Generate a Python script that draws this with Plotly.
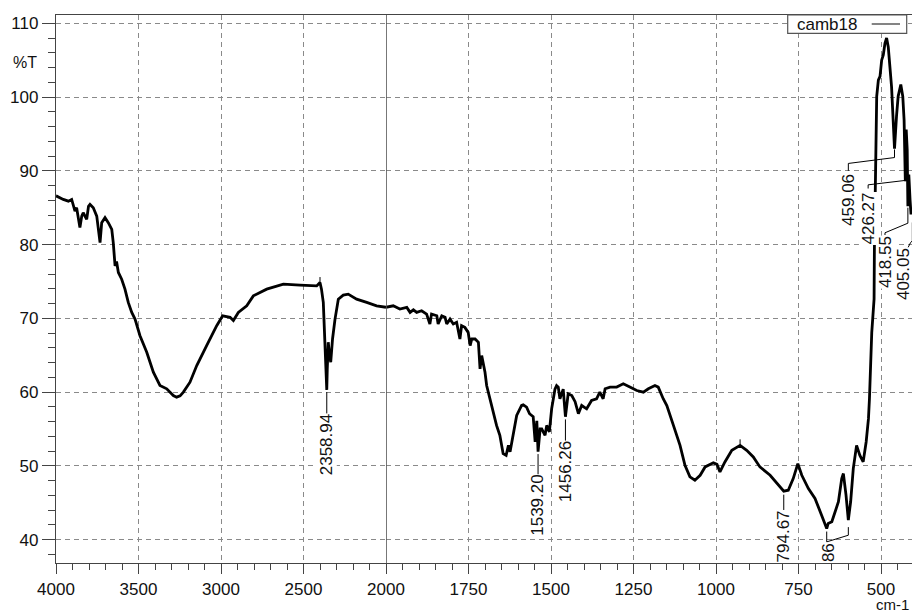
import plotly.graph_objects as go

# ---- spectrum: wavenumber (cm-1) and transmittance (%T) ----
wavenumber = [
    4000, 3996, 3956, 3925, 3905, 3895, 3885, 3875, 3867, 3855, 3844, 3835, 3814,
    3803, 3794, 3774, 3753, 3744, 3733, 3723, 3703, 3683, 3662, 3653, 3642, 3633,
    3622, 3602, 3582, 3562, 3541, 3521, 3491, 3450, 3410, 3370, 3329, 3289, 3269,
    3248, 3228, 3188, 3147, 3087, 3026, 2990, 2970, 2945, 2925, 2895, 2844, 2804,
    2723, 2622, 2521, 2420, 2400, 2391, 2380, 2370, 2361, 2358.94, 2356, 2350,
    2344, 2335, 2324, 2309, 2289, 2259, 2229, 2178, 2117, 2057, 2000,
    1978, 1958, 1937, 1927, 1917, 1907, 1892, 1877, 1867, 1862, 1846, 1842, 1831,
    1821, 1816, 1806, 1796, 1786, 1776, 1771, 1761, 1751, 1745, 1740, 1730, 1720,
    1715, 1710, 1700, 1695, 1685, 1675, 1665, 1655, 1649, 1645, 1636, 1629, 1624,
    1614, 1604, 1589, 1584, 1574, 1565, 1554, 1548, 1543, 1539.2, 1533, 1528,
    1518, 1513, 1505, 1498, 1488, 1483, 1478, 1473, 1463, 1456.26, 1448, 1437,
    1427, 1417, 1407, 1392, 1377, 1362, 1352, 1342, 1336, 1321, 1301, 1281, 1261,
    1240, 1220, 1205, 1185, 1175, 1160, 1149, 1129, 1109, 1094, 1079, 1064, 1048,
    1033, 1008, 997, 988, 973, 952, 927, 907, 887, 867, 836, 806, 794.67, 781, 766,
    752, 740, 720, 700, 680, 670, 664.5, 660, 649, 639, 629, 619, 614, 606, 599,
    592, 584, 574, 564, 554, 545, 538, 535, 528, 521, 520, 517, 513, 508, 503,
    498, 493, 488, 483, 478, 475, 473, 468, 463, 459.06, 453, 448, 440, 434, 430,
    426.27, 423.6, 420.6, 418.55, 415.7, 412, 409, 406,
]
transmittance = [
    86.6, 86.57, 86.12, 85.89, 86.12, 85.22, 84.54, 85.0, 83.7, 82.3, 83.86, 84.32, 83.42,
    85.2, 85.45, 85.0, 83.86, 82.1, 80.27, 82.97, 83.65, 82.97, 82.07, 80.27, 77.1, 77.7,
    76.22, 75.31, 73.96, 72.16, 70.81, 69.9, 67.65, 65.4, 62.7, 60.9, 60.45, 59.54, 59.32,
    59.5, 60.0, 61.35, 63.6, 66.3, 69.0, 70.35, 70.24, 70.14, 69.7, 70.8, 71.7, 73.05,
    73.96, 74.64, 74.5, 74.4, 74.86, 73.96, 72.16, 65.45, 60.7, 60.3, 63.1, 66.76,
    65.4, 64.05, 67.2, 69.9, 72.6, 73.15, 73.28, 72.6, 72.16, 71.7, 71.5,
    71.7, 71.26, 71.49, 70.81, 71.16, 70.81, 71.03, 70.58, 69.23, 70.58, 70.35, 69.23, 70.35,
    70.14, 69.23, 69.9, 69.23, 69.46, 67.2, 69.0, 68.78, 68.1, 66.3, 67.2, 67.2, 66.76,
    63.15, 64.95, 62.7, 60.9, 59.1, 57.3, 55.49, 54.14, 52.78, 51.66, 51.43, 52.78, 51.9,
    54.6, 56.84, 58.19, 58.28, 57.97, 57.07, 56.66, 53.24, 56.1, 51.93, 55.0, 55.0,
    54.14, 55.49, 54.6, 57.74, 60.4, 60.89, 60.68, 59.1, 60.4, 56.66, 59.77, 59.54,
    58.7, 57.07, 58.19, 57.74, 58.87, 59.1, 60.0, 59.1, 60.45, 60.68, 60.68, 61.12, 60.68,
    60.22, 60.0, 60.45, 60.89, 60.68, 59.1, 58.19, 55.49, 52.78, 50.08, 48.51, 48.05, 48.73,
    49.86, 50.41, 50.2, 49.19, 50.54, 52.11, 52.78, 52.11, 51.22, 49.86, 48.73, 47.16, 46.57, 46.7, 48.28,
    50.3, 48.73, 46.93, 45.58, 43.32, 41.97, 41.5, 42.2, 42.43, 43.78, 45.14, 48.28, 48.96, 46.03, 42.65,
    45.14, 49.64, 52.78, 51.43, 50.54, 53.24, 56.4, 59.1, 68.1, 72.6, 79.4, 87.5, 100.1, 102.3, 102.8,
    105.0, 105.7, 107.3, 108.0, 106.8, 105.5, 104.1, 101.4, 96.9, 93.0, 97.4, 100.1, 101.7, 100.1, 96.9,
    88.6, 95.6, 92.9, 85.2, 89.5, 86.1, 84.1, 84.8,
]

# axis ticks
left_ticks = [4000, 3500, 3000, 2500]
right_ticks = [2000, 1750, 1500, 1250, 1000, 750, 500]
y_ticks = [40, 50, 60, 70, 80, 90, 100, 110]

# peak labels: (text, peak wavenumber, leader top %T, leader bottom %T, text x, text y)
peak_labels = [
    ("2358.94", 2358.94, 60.0, 57.1, 2358.94, 52.9),
    ("1539.20", 1539.20, 51.6, 48.7, 1539.20, 44.6),
    ("1456.26", 1456.26, 56.3, 53.4, 1456.26, 49.2),
    ("794.67", 794.67, 46.1, 44.0, 794.67, 40.4),
]

FIG_W, FIG_H = 912, 613
L, R, T, B = 56, 0, 15, 50
PW, PH = FIG_W - L - R, FIG_H - T - B
split = 330 / PW

FONT = "Liberation Sans, Arial, sans-serif"
INK = "#111111"
GRID = "#8a8a8a"
AXIS = "#444444"


def px(x, y):
    """page pixel -> paper coordinates"""
    return (x - L) / PW, (FIG_H - B - y) / PH


left_w = [w for w in wavenumber if w >= 2000]
left_t = [t for w, t in zip(wavenumber, transmittance) if w >= 2000]
right_w = [w for w in wavenumber if w <= 2000]
right_t = [t for w, t in zip(wavenumber, transmittance) if w <= 2000]

line_style = dict(color="black", width=2.8)
fig = go.Figure()
fig.add_trace(go.Scatter(x=left_w, y=left_t, mode="lines", line=line_style,
                         xaxis="x", yaxis="y", showlegend=False, hoverinfo="skip"))
fig.add_trace(go.Scatter(x=right_w, y=right_t, mode="lines", line=line_style,
                         xaxis="x2", yaxis="y", showlegend=False, hoverinfo="skip"))

common_x = dict(
    ticks="outside", ticklen=10, tickwidth=1.2, tickcolor=AXIS,
    showline=True, linecolor=AXIS, linewidth=1.2, mirror=True,
    showgrid=True, gridcolor=GRID, gridwidth=1, griddash="5px,4px",
    zeroline=False, anchor="y",
    tickfont=dict(family=FONT, size=17, color=INK),
)
fig.update_layout(
    width=FIG_W, height=FIG_H,
    margin=dict(l=L, r=R, t=T, b=B, pad=0),
    paper_bgcolor="white", plot_bgcolor="white",
    xaxis=dict(domain=[0, split], range=[4000, 2000], tickmode="array",
               tickvals=left_ticks, ticktext=[str(v) for v in left_ticks],
               minor=dict(tickmode="array", tickvals=list(range(3900, 2000, -100)),
                          ticks="outside", ticklen=6, tickcolor=AXIS, showgrid=False),
               **common_x),
    xaxis2=dict(domain=[split, 1], range=[2000, 2000 - 526 / 0.33], tickmode="array",
                tickvals=right_ticks, ticktext=[str(v) for v in right_ticks],
                minor=dict(tickmode="array", tickvals=list(range(1950, 400, -50)),
                           ticks="outside", ticklen=6, tickcolor=AXIS, showgrid=False),
                **common_x),
    yaxis=dict(range=[36.835, 111.125], tickmode="array", tickvals=y_ticks,
               ticks="outside", ticklen=13, tickwidth=1.2, tickcolor=AXIS,
               minor=dict(tickmode="array", tickvals=list(range(38, 112, 2)),
                          ticks="outside", ticklen=7, tickcolor=AXIS, showgrid=False),
               showline=True, linecolor=AXIS, linewidth=1.4,
               showgrid=True, gridcolor=GRID, gridwidth=1, griddash="5px,4px",
               zeroline=False, anchor="x",
               tickfont=dict(family=FONT, size=17, color=INK)),
)

shapes = []
annotations = []

# solid divider where the abscissa scale changes
shapes.append(dict(type="line", xref="x2", yref="y domain", x0=2000, x1=2000, y0=0, y1=1,
                   line=dict(color="#555555", width=1.6)))

# small peak markers without labels
for w, v0, v1 in [(2400, 74.9, 75.6), (927, 52.9, 53.6)]:
    shapes.append(dict(type="line", xref="x" if w > 2000 else "x2", yref="y",
                       x0=w, x1=w, y0=v0, y1=v1, line=dict(color="black", width=1)))

lab_font = dict(family=FONT, size=17, color=INK)
for text, w, top, bottom, tx, ty in peak_labels:
    xr = "x" if w > 2000 else "x2"
    shapes.append(dict(type="line", xref=xr, yref="y", x0=w, x1=w, y0=top, y1=bottom,
                       line=dict(color="black", width=1)))
    annotations.append(dict(text=text, x=tx, y=ty, xref=xr, yref="y", showarrow=False,
                            textangle=-90, xanchor="center", yanchor="middle",
                            font=lab_font, bgcolor="white", borderpad=0))

# bracket label for the doublet near 660 / 600 cm-1
shapes.append(dict(type="path", xref="x2", yref="y",
                   path="M 664.5 41.1 L 664.5 39.7 L 599 40.6 L 599 41.7",
                   line=dict(color="black", width=1)))
annotations.append(dict(text="86", x=657, y=38.2, xref="x2", yref="y", showarrow=False,
                        textangle=-90, xanchor="center", yanchor="middle",
                        font=lab_font, bgcolor="white", borderpad=0))

# labels of the low-wavenumber cluster with bent leaders
cluster = [
    ("459.06", "M 599 90.0 L 599 91.0 L 459.06 91.8 L 459.06 92.9", 599, 86.1),
    ("426.27", "M 539 87.6 L 539 88.1 L 426.27 88.7 L 426.27 88.6", 538, 83.6),
    ("418.55", "M 487.9 81.3 L 487.9 81.6 L 418.55 82.9 L 418.55 85.0", 485.5, 77.6),
    ("405.05", "M 418 79.6 L 410 80.3 L 405.05 80.5 L 405.05 83.0", 433.5, 76.0),
]
for text, path, tx, ty in cluster:
    shapes.append(dict(type="path", xref="x2", yref="y", path=path,
                       line=dict(color="black", width=1)))
    annotations.append(dict(text=text, x=tx, y=ty, xref="x2", yref="y", showarrow=False,
                            textangle=-90, xanchor="center", yanchor="middle",
                            font=lab_font, bgcolor="white", borderpad=0))

# axis captions
ax, ay = px(25, 62)
annotations.append(dict(text="%T", x=ax, y=ay, xref="paper", yref="paper", showarrow=False,
                        xanchor="center", yanchor="middle",
                        font=dict(family=FONT, size=16, color=INK)))
ax, ay = px(910, 604)
annotations.append(dict(text="cm-1", x=ax, y=ay, xref="paper", yref="paper", showarrow=False,
                        xanchor="right", yanchor="middle", borderpad=0,
                        font=dict(family=FONT, size=15, color=INK)))

# legend box: series name followed by its line sample
x0, y0 = px(787.7, 33.3)
x1, y1 = px(906.7, 15)
shapes.append(dict(type="rect", xref="paper", yref="paper", x0=x0, y0=y0, x1=x1, y1=y1,
                   line=dict(color="#555555", width=1.2), fillcolor="white", layer="above"))
lx, ly = px(795, 24.5)
annotations.append(dict(text="camb18", x=lx, y=ly, xref="paper", yref="paper",
                        showarrow=False, xanchor="left", yanchor="middle",
                        font=dict(family=FONT, size=17, color=INK)))
sx0, sy = px(871.7, 24)
sx1, _ = px(900, 24)
shapes.append(dict(type="line", xref="paper", yref="paper", x0=sx0, x1=sx1, y0=sy, y1=sy,
                   line=dict(color="#333333", width=1.2), layer="above"))

fig.update_layout(shapes=shapes, annotations=annotations)
fig.write_html("out.html")
